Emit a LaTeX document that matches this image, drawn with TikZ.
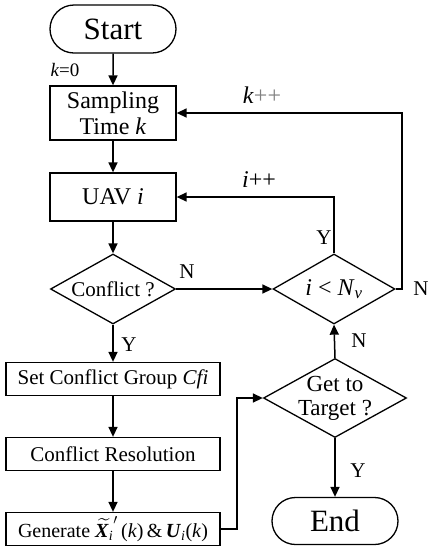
\documentclass[tikz,border=0pt]{standalone}
\usepackage{amsmath}
\usepackage{fontspec}
\setmainfont{Liberation Serif}
\usetikzlibrary{shapes.geometric,shapes.misc,arrows.meta}
\tikzset{
  box/.style={draw,line width=1.3pt,rectangle,inner sep=0pt,align=center},
  term/.style={draw,line width=1.3pt,rounded rectangle,inner sep=0pt,minimum width=126pt,minimum height=48pt,font=\fontsize{31}{33}\selectfont},
  dia/.style={draw,line width=1.3pt,diamond,inner sep=0pt},
  lbl/.style={inner sep=0pt,align=center},
  flow/.style={line width=1.5pt,-{Triangle[length=10pt,width=9pt]}},
  yn/.style={inner sep=0pt,font=\fontsize{21}{23}\selectfont}
}
\begin{document}
\begin{tikzpicture}[x=1pt,y=-1pt]
\useasboundingbox (0,0) rectangle (434,550);
\node[term] (start) at (113,29) {Start};
\node[box,minimum width=126pt,minimum height=54pt,font=\fontsize{24}{26}\selectfont] (samp) at (113,113) {Sampling\\Time \textit{k}};
\node[box,minimum width=126pt,minimum height=48pt,font=\fontsize{24}{26}\selectfont] (uav) at (113,197) {UAV \textit{i}};
\node[dia,minimum width=125pt,minimum height=70pt,label={[lbl,font=\fontsize{21}{23}\selectfont]center:Conflict ?}] (conf) at (113,289) {};
\node[dia,minimum width=122pt,minimum height=70pt,label={[lbl,font=\fontsize{24}{26}\selectfont]center:\textit{i} < \textit{N}$_{\textit{v}}$}] (iN) at (334,289) {};
\node[dia,minimum width=143pt,minimum height=79pt,label={[lbl,font=\fontsize{23}{24}\selectfont]center:Get to\\Target ?}] (get) at (335,398) {};
\node[term,minimum height=47pt] (endn) at (335,521) {End};
\node[box,minimum width=214pt,minimum height=33pt,font=\fontsize{21}{23}\selectfont] (set) at (113,379) {Set Conflict Group \textit{Cfi}};
\node[box,minimum width=214pt,minimum height=33pt,font=\fontsize{21}{23}\selectfont] (res) at (113,454) {Conflict Resolution};
\node[box,minimum width=214pt,minimum height=33pt,font=\fontsize{20}{22}\selectfont] (gen) at (113,529) {Generate $\widetilde{\textbf{\textit{X}}_{\textit{i}}}^{\prime}$\,(\textit{k})\,\&\,$\textbf{\textit{U}}_{\textit{i}}$(\textit{k})};
\coordinate (c1) at (237,529);
\coordinate (c2) at (237,398);
\coordinate (c3) at (334,197);
\coordinate (c4) at (402,289);
\coordinate (c5) at (402,113);
\draw[flow] (start) -- (samp);
\draw[flow] (samp) -- (uav);
\draw[flow] (uav) -- (conf);
\draw[flow] (conf) -- (set);
\draw[flow] (set) -- (res);
\draw[flow] (res) -- (gen);
\draw[flow] (conf.east) -- (iN.west);
\draw[flow] (gen.east) -- (c1) -- (c2) -- (get.west);
\draw[flow] (get.north) -- (iN.south);
\draw[flow] (get.south) -- (endn.north);
\draw[flow] (iN.north) -- (c3) -- (uav.east);
\draw[flow] (iN.east) -- (c4) -- (c5) -- (samp.east);
\node[yn] (ly1) at (129,345) {Y};
\node[yn] (ln1) at (187,272) {N};
\node[yn] (ln2) at (359,341) {N};
\node[yn] (ly2) at (358,471) {Y};
\node[yn] (ly3) at (324,238) {Y};
\node[yn] (ln3) at (421,289) {N};
\node[inner sep=0pt,font=\fontsize{24}{26}\selectfont] (ipp) at (259,180) {\textit{i}++};
\node[inner sep=0pt,font=\fontsize{24}{26}\selectfont] (kpp) at (262,95) {\textit{k}\textcolor{gray}{++}};
\node[inner sep=0pt,font=\fontsize{19}{21}\selectfont] (k0) at (65,70) {\textit{k}=0};
\end{tikzpicture}
\end{document}
